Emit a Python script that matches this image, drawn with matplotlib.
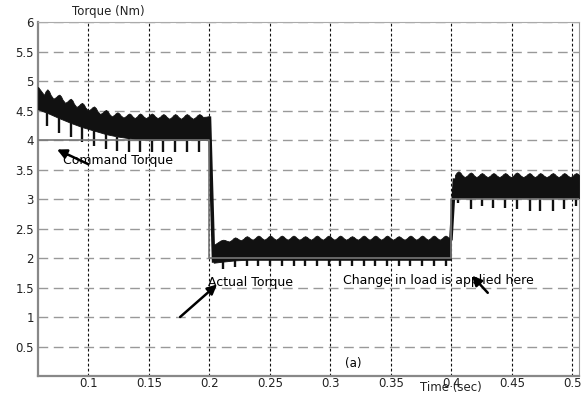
import numpy as np
import matplotlib.pyplot as plt

# values (time in s, torque in Nm)
# segment 1: 0.058 .. 0.2 s
t1 = [0.0661, 0.0760, 0.0855, 0.0948, 0.1047, 0.1146, 0.1240, 0.1339, 0.1427,
      0.1524, 0.1620, 0.1717, 0.1813, 0.1917]
pk1 = [4.86, 4.77, 4.70, 4.63, 4.57, 4.51, 4.47, 4.45, 4.45, 4.45, 4.44, 4.44, 4.44, 4.44]
vl1 = [4.70, 4.63, 4.56, 4.50, 4.44, 4.40, 4.38, 4.37, 4.37, 4.37, 4.36, 4.36, 4.36]
lo1 = [4.46, 4.37, 4.29, 4.22, 4.16, 4.10, 4.06, 4.03, 4.01, 4.00, 4.00, 4.00, 4.00, 4.00]
bot1 = [4.24, 4.12, 4.05, 3.97, 3.90, 3.85, 3.82, 3.80, 3.80, 3.79, 3.79, 3.79, 3.79, 3.80]
ends1 = [0.0584, 0.2000]
ends1_hi = [4.90, 4.40]
ends1_lo = [4.52, 4.00]

# segment 2: 0.2 .. 0.4 s
t2 = [0.2115, 0.2212, 0.2309, 0.2405, 0.2502, 0.2598, 0.2695, 0.2791, 0.2888, 0.2985,
      0.3081, 0.3178, 0.3275, 0.3371, 0.3468, 0.3564, 0.3661, 0.3758, 0.3854, 0.3951]
pk2 = [2.31, 2.35, 2.37, 2.38, 2.38, 2.38, 2.38, 2.37, 2.38, 2.38,
       2.38, 2.37, 2.38, 2.38, 2.38, 2.37, 2.38, 2.38, 2.38, 2.38]
vl2 = [2.28, 2.30, 2.31, 2.31, 2.31, 2.31, 2.31, 2.31, 2.31, 2.31,
       2.31, 2.31, 2.31, 2.31, 2.31, 2.31, 2.31, 2.31, 2.31]
lo2 = [1.94, 1.96, 1.97, 1.97, 1.97, 1.97, 1.97, 1.97, 1.97, 1.97,
       1.97, 1.97, 1.97, 1.97, 1.97, 1.97, 1.97, 1.97, 1.97, 1.97]
bot2 = [1.82, 1.85, 1.86, 1.86, 1.87, 1.86, 1.87, 1.86, 1.87, 1.86,
        1.87, 1.86, 1.87, 1.86, 1.87, 1.86, 1.87, 1.86, 1.87, 1.86]
ends2 = [0.2035, 0.3995]
ends2_hi = [2.22, 2.36]
ends2_lo = [1.92, 1.97]

# segment 3: 0.4 .. end
t3 = [0.4058, 0.4160, 0.4251, 0.4347, 0.4444, 0.4540, 0.4645, 0.4733, 0.4838, 0.4932, 0.5031]
pk3 = [3.47, 3.45, 3.44, 3.44, 3.44, 3.45, 3.44, 3.44, 3.44, 3.44, 3.44]
vl3 = [3.37, 3.37, 3.37, 3.37, 3.37, 3.37, 3.37, 3.37, 3.37, 3.37]
lo3 = [3.02, 3.02, 3.02, 3.02, 3.02, 3.02, 3.02, 3.02, 3.02, 3.02, 3.02]
bot3 = [2.93, 2.83, 2.88, 2.85, 2.85, 2.83, 2.79, 2.79, 2.79, 2.83, 2.88]
ends3 = [0.4025, 0.5055]
ends3_hi = [3.30, 3.40]
ends3_lo = [3.02, 3.02]

# steps between segments
drop_t = [0.2000, 0.2035]
drop_v = [4.40, 1.92]
rise_t = [0.3995, 0.4025]
rise_v = [2.30, 3.35]

# command torque
cmd_t = [0.0584, 0.2, 0.2, 0.4, 0.4, 0.5055]
cmd_v = [4, 4, 2, 2, 3, 3]

xticks = [0.1, 0.15, 0.2, 0.25, 0.3, 0.35, 0.4, 0.45, 0.5]
yticks = [0.5, 1, 1.5, 2, 2.5, 3, 3.5, 4, 4.5, 5, 5.5, 6]

plt.rcParams['font.family'] = 'DejaVu Sans'

fig = plt.figure(figsize=(5.85, 3.94), dpi=100)
ax = fig.add_axes([0.065, 0.0457, 0.925, 0.8983])

black = '#111111'


def band(t, pk, vl, lo, bot, ends, ends_hi, ends_lo):
    # black ripple band: rounded humps at the spikes, cusps in between
    xs = [ends[0]]
    hi = [ends_hi[0]]
    for i in range(len(t)):
        half_l = (t[i] - t[i - 1]) / 2 if i > 0 else (t[1] - t[0]) / 2
        half_r = (t[i + 1] - t[i]) / 2 if i < len(t) - 1 else half_l
        v_l = vl[i - 1] if i > 0 else vl[0]
        v_r = vl[i] if i < len(vl) else vl[-1]
        for f, vv in [(-0.55, v_l), (-0.3, v_l), (0, None), (0.3, v_r), (0.55, v_r)]:
            if vv is None:
                xs.append(t[i])
                hi.append(pk[i])
            else:
                h = half_l if f < 0 else half_r
                xs.append(t[i] + f * h)
                hi.append(pk[i] - (0.22 if abs(f) < 0.4 else 0.6) * (pk[i] - vv))
        if i < len(vl):
            xs.append((t[i] + t[i + 1]) / 2)
            hi.append(vl[i])
    xs.append(ends[1])
    hi.append(ends_hi[1])
    xs = np.array(xs)
    order = np.argsort(xs)
    xs = xs[order]
    hi = np.array(hi)[order]
    mask = (xs >= ends[0]) & (xs <= ends[1])
    xs, hi = xs[mask], hi[mask]
    lower = np.interp(xs, [ends[0]] + list(t) + [ends[1]],
                      [ends_lo[0]] + list(lo) + [ends_lo[1]])
    ax.fill_between(xs, lower, hi, color=black, lw=0.6, zorder=3)
    ax.vlines(t, bot, lo, color=black, lw=1.7, zorder=3)


band(t1, pk1, vl1, lo1, bot1, ends1, ends1_hi, ends1_lo)
band(t2, pk2, vl2, lo2, bot2, ends2, ends2_hi, ends2_lo)
band(t3, pk3, vl3, lo3, bot3, ends3, ends3_hi, ends3_lo)
ax.plot(drop_t, drop_v, color=black, lw=2.6, zorder=3, solid_capstyle='butt')
ax.plot(rise_t, rise_v, color=black, lw=2.6, zorder=3, solid_capstyle='butt')

ax.plot(cmd_t, cmd_v, color='#777777', lw=1.2, zorder=4)

ax.set_xlim(0.0584, 0.5055)
ax.set_ylim(0, 6)
ax.set_xticks(xticks)
ax.set_xticklabels(['0.1', '0.15', '0.2', '0.25', '0.3', '0.35', '0.4', '0.45', '0.5'])
ax.set_yticks(yticks)
ax.set_yticklabels(['0.5', '1', '1.5', '2', '2.5', '3', '3.5', '4', '4.5', '5', '5.5', '6'])
ax.tick_params(length=0, labelsize=8.5, colors='#222222')
ax.tick_params(axis='x', pad=0.5)
ax.tick_params(axis='y', pad=3)

ax.xaxis.grid(True, color='#111111', linestyle=(0, (2.5, 2)), lw=0.8)
ax.yaxis.grid(True, color='#999999', linestyle=(0, (7, 4)), lw=1.0)
ax.set_axisbelow(True)

for side in ['left', 'bottom']:
    ax.spines[side].set_color('#888888')
    ax.spines[side].set_linewidth(1.6)
ax.spines['top'].set_color('#aaaaaa')
ax.spines['right'].set_color('#999999')

arrow = dict(arrowstyle='-|>', color='k', lw=1.8, mutation_scale=14, shrinkA=0, shrinkB=0)
ax.text(0.079, 3.65, 'Command Torque', fontsize=9, va='center', ha='left', zorder=5)
ax.annotate('', xy=(0.0741, 3.84), xytext=(0.100, 3.59), arrowprops=arrow, zorder=6)
ax.text(0.199, 1.59, 'Actual Torque', fontsize=9, va='center', ha='left', zorder=5)
ax.annotate('', xy=(0.2063, 1.55), xytext=(0.1758, 1.0), arrowprops=arrow, zorder=6)
ax.text(0.3103, 1.62, 'Change in load is applied here', fontsize=9, va='center', ha='left', zorder=5)
ax.annotate('', xy=(0.417, 1.70), xytext=(0.430, 1.41), arrowprops=arrow, zorder=6)
ax.text(0.312, 0.22, '(a)', fontsize=8.5, va='center', ha='left')

fig.text(0.123, 0.970, 'Torque (Nm)', fontsize=8.5, va='center', ha='left', color='#222222')
fig.text(0.771, 0.001, 'Time (sec)', fontsize=8.5, va='bottom', ha='center', color='#222222')

fig.savefig('out.png', dpi=100, facecolor='white')
